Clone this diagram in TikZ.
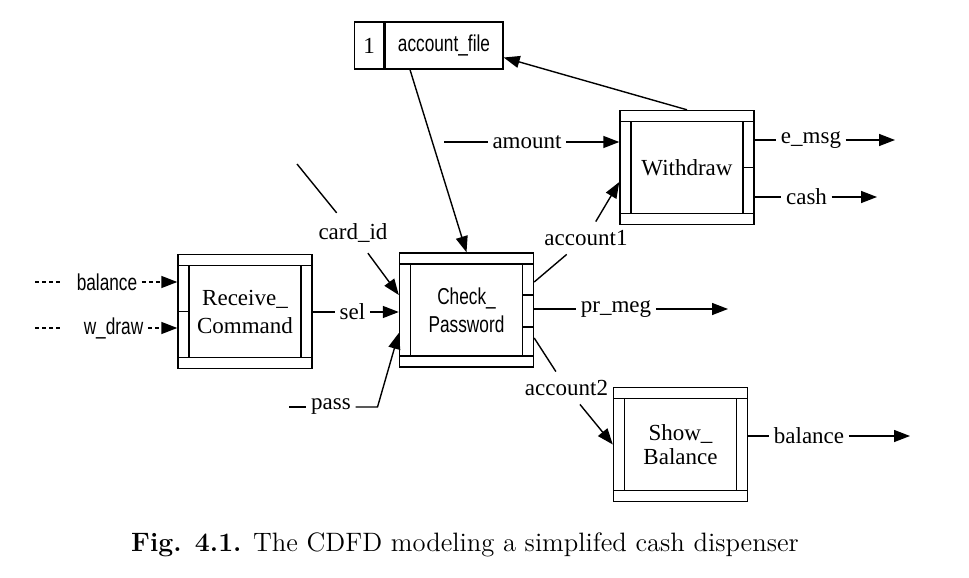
\documentclass[tikz,border=0pt]{standalone}
\usepackage{fontspec}
\newfontfamily\tms{Liberation Serif}
\newfontfamily\narrowsf[FakeStretch=0.75]{Liberation Sans}
\usetikzlibrary{arrows.meta,positioning}

\tikzset{
  lbl/.style={inner sep=2pt,font=\tms\fontsize{11.5}{14}\selectfont},
  nlbl/.style={inner sep=2pt,font=\narrowsf\fontsize{11.5}{14}\selectfont},
  flow/.style={-{Triangle[length=8pt,width=6pt]}},
  dashpat/.style={dash pattern=on 2pt off 1.5pt},
  procbox/.style={draw,minimum width=67pt,minimum height=57pt,align=center,
    path picture={
      \draw ([yshift=-5.5pt]path picture bounding box.north west) -- ([yshift=-5.5pt]path picture bounding box.north east);
      \draw ([yshift=5.5pt]path picture bounding box.south west) -- ([yshift=5.5pt]path picture bounding box.south east);
      \draw ([shift={(5.5pt,-5.5pt)}]path picture bounding box.north west) -- ([shift={(5.5pt,5.5pt)}]path picture bounding box.south west);
      \draw ([shift={(-5.5pt,-5.5pt)}]path picture bounding box.north east) -- ([shift={(-5.5pt,5.5pt)}]path picture bounding box.south east);
    }},
  store/.style={draw,minimum height=23.5pt}
}

\begin{document}
\begin{tikzpicture}[x=0.5pt,y=-0.5pt,line width=0.7pt]
\useasboundingbox (0,0) rectangle (969,578);
\node[lbl,procbox] (rc) at (245,311.5) {Receive\_\\Command};
\node[nlbl,procbox] (cp) at (466.5,310) {Check\_\\Password};
\node[lbl,procbox] (wd) at (687,167.5) {Withdraw};
\node[lbl,procbox] (sb) at (680.5,444.5) {Show\_\\[-2pt]Balance};
\draw (rc.west) -- ++(5.5pt,0);
\draw ([yshift=7.5pt]cp.east) -- ++(-5.5pt,0);
\draw ([yshift=-8.5pt]cp.east) -- ++(-5.5pt,0);
\draw (wd.east) -- ++(-5.5pt,0);
\node[store,nlbl,minimum width=59pt] (af) at (444,45.5) {account\_file};
\node[store,lbl,minimum width=14.5pt,left=0pt of af] (afn) {1};
\coordinate (bal0) at (35,282);
\node[nlbl] (bal) at (107,282) {balance};
\draw[dashpat] (bal0) -- ([xshift=-5pt]bal.west);
\draw[dashpat,flow] (bal) -- (rc.west |- bal);
\coordinate (wdr0) at (35,328);
\node[nlbl] (wdr) at (113.5,328) {w\_draw};
\draw[dashpat] (wdr0) -- ([xshift=-9pt]wdr.west);
\draw[dashpat,flow] (wdr) -- (rc.west |- wdr);
\node[lbl] (sel) at (352.5,312) {sel};
\draw (rc.east |- sel) -- (sel);
\draw[flow] (sel) -- (cp.west |- sel);
\coordinate (cid0) at (297,164);
\node[lbl,inner sep=5pt] (cid) at (353,233) {card\_id};
\draw (cid0) -- (cid);
\draw[flow] (cid) -- ([yshift=7.5pt]cp.west);
\coordinate (ps0) at (289,407);
\node[lbl] (ps) at (331,407) {pass};
\draw (ps0) -- (ps);
\draw[flow] (ps.east) -- ++(11pt,0) -- ([yshift=-11.5pt]cp.west);
\draw[flow] ([xshift=-17pt]af.south) -- (cp.north);
\draw[flow] (wd.north) -- ([yshift=-6pt]af.east);
\coordinate (amt0) at (444,142);
\node[lbl] (amt) at (527,142) {amount};
\draw (amt0) -- (amt);
\draw[flow] (amt) -- (wd.west |- amt);
\node[lbl,inner sep=4pt] (ac1) at (586,238) {account1};
\draw ([yshift=14pt]cp.east) -- (ac1);
\draw[flow] (ac1) -- ([yshift=-7.25pt]wd.west);
\node[lbl] (prm) at (616,309) {pr\_meg};
\coordinate (prm1) at (728,309);
\draw (cp.east |- prm) -- (prm);
\draw[flow] (prm) -- (prm1);
\node[lbl,inner sep=4pt] (ac2) at (566.5,388) {account2};
\draw ([yshift=-14pt]cp.east) -- (ac2);
\draw[flow] (ac2) -- (sb.west);
\node[lbl] (emsg) at (811,140) {e\_msg};
\coordinate (emsg1) at (895,140);
\draw (wd.east |- emsg) -- (emsg);
\draw[flow] (emsg) -- (emsg1);
\node[lbl] (cash) at (806.5,197) {cash};
\coordinate (cash1) at (877,197);
\draw (wd.east |- cash) -- (cash);
\draw[flow] (cash) -- (cash1);
\node[lbl] (bout) at (809,436) {balance};
\coordinate (bout1) at (910,436);
\draw (sb.east |- bout) -- (bout);
\draw[flow] (bout) -- (bout1);
\node (cap) at (465,545) {\fontsize{13.3}{15}\selectfont\textbf{Fig. 4.1.} The CDFD modeling a simplifed cash dispenser};
\end{tikzpicture}
\end{document}
